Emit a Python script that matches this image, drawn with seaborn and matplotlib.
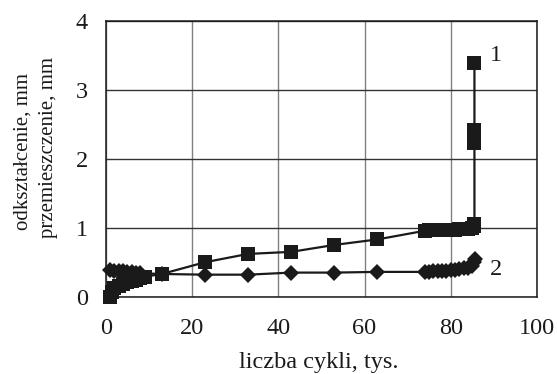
import numpy as np
import pandas as pd
import matplotlib
matplotlib.use("Agg")
import matplotlib.pyplot as plt
import seaborn as sns

# Curve 1: deformation (square markers)
cycles_1 = [1, 1.5, 2, 3, 4, 5, 6, 7, 8, 9, 13, 23, 33, 43, 53, 63,
            74, 75, 76, 77, 78, 79, 80, 81, 82, 83, 84, 85, 85.4, 85.5,
            85.5, 85.5, 85.5, 85.5, 85.5]
values_1 = [0.0, 0.08, 0.13, 0.17, 0.2, 0.22, 0.24, 0.26, 0.28, 0.3, 0.34, 0.51, 0.63, 0.66, 0.76, 0.84,
            0.965, 0.97, 0.97, 0.97, 0.975, 0.975, 0.98, 0.98, 0.985, 0.99, 0.99, 1.0, 1.03, 1.07,
            2.23, 2.3, 2.36, 2.42, 3.39]

# Curve 2: displacement (diamond markers)
cycles_2 = [1, 2, 3, 4, 5, 6, 7, 8, 13, 23, 33, 43, 53, 63,
            74, 75, 76, 77, 78, 79, 80, 81, 82, 83, 84, 85, 85.5, 85.7]
values_2 = [0.40, 0.39, 0.38, 0.38, 0.37, 0.37, 0.36, 0.35, 0.34, 0.33, 0.33, 0.36, 0.36, 0.37,
            0.37, 0.37, 0.38, 0.38, 0.39, 0.39, 0.40, 0.40, 0.41, 0.42, 0.43, 0.46, 0.51, 0.55]

x_ticks = [0, 20, 40, 60, 80, 100]
y_ticks = [0, 1, 2, 3, 4]

sns.set_theme(style="white")
plt.rcParams["font.family"] = ["Liberation Serif", "DejaVu Serif"]

ink = "#1a1a1a"
fig = plt.figure(figsize=(5.57, 3.74), dpi=100)
ax = fig.add_axes([0.19, 0.2046, 0.774, 0.7394])

df1 = pd.DataFrame({"x": cycles_1, "y": values_1})
df2 = pd.DataFrame({"x": cycles_2, "y": values_2})

sns.lineplot(data=df2, x="x", y="y", ax=ax, sort=False, estimator=None,
             color=ink, lw=1.6, marker="D", markersize=8.4,
             markeredgewidth=0, zorder=3, clip_on=False)
sns.lineplot(data=df1, x="x", y="y", ax=ax, sort=False, estimator=None,
             color=ink, lw=1.6, marker="s", markersize=9.8,
             markeredgewidth=0, zorder=4, clip_on=False)

ax.set_xlim(0, 100)
ax.set_ylim(0, 4)
ax.set_xticks(x_ticks)
ax.set_yticks(y_ticks)
ax.set_xticklabels([str(t) for t in x_ticks])
ax.set_yticklabels([str(t) for t in y_ticks])
ax.tick_params(axis="both", labelsize=17.5, length=0, colors=ink)
ax.tick_params(axis="x", pad=15)
ax.tick_params(axis="y", pad=13)

ax.grid(True, axis="x", color="#808080", lw=1.0)
ax.grid(True, axis="y", color="#333333", lw=1.0)
ax.set_axisbelow(True)
for s in ax.spines.values():
    s.set_color(ink)
    s.set_linewidth(1.1)

ax.set_xlabel("liczba cykli, tys.", fontsize=17.5, color=ink)
ax.xaxis.label.set_va("baseline")
ax.xaxis.set_label_coords(0.494, -0.255)
ax.set_ylabel("")
fig.text(0.042, 0.595, "odkształcenie, mm", rotation=90, ha="center", va="center",
         fontsize=15, color=ink)
fig.text(0.087, 0.605, "przemieszczenie, mm", rotation=90, ha="center", va="center",
         fontsize=15, color=ink)

ax.text(90.5, 3.5, "1", fontsize=17.5, color=ink, ha="center", va="center")
ax.text(90.5, 0.4, "2", fontsize=17.5, color=ink, ha="center", va="center")

fig.savefig("out.png", dpi=100)
